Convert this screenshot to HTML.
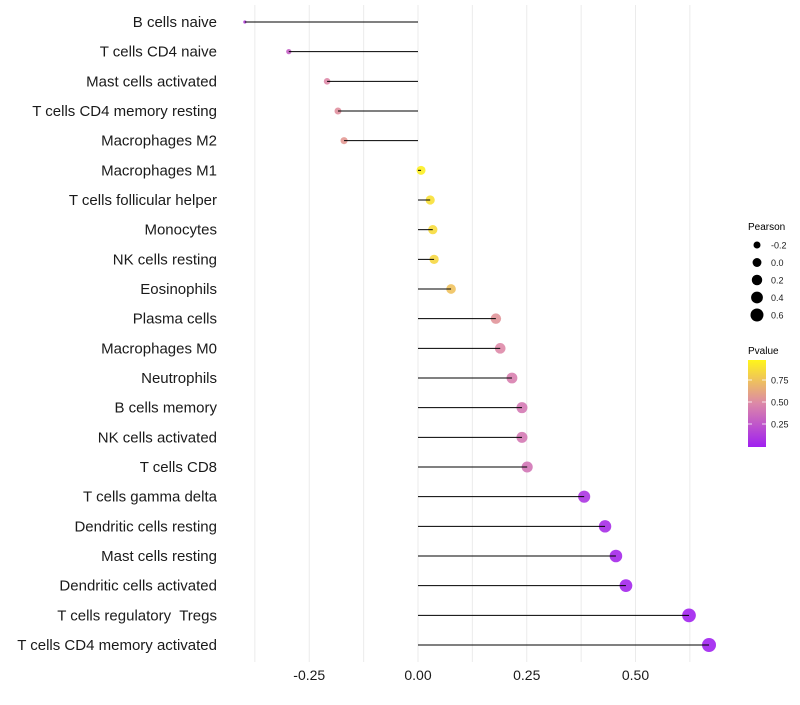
<!DOCTYPE html>
<html><head><meta charset="utf-8"><style>
body{margin:0;background:#fff;font-family:"Liberation Sans",sans-serif}
svg text{font-family:"Liberation Sans",sans-serif;white-space:pre}
</style></head><body>
<svg id="chart" width="800" height="700" viewBox="0 0 800 700" xmlns="http://www.w3.org/2000/svg">
<defs><linearGradient id="pg" x1="0" y1="1" x2="0" y2="0">
<stop offset="0" stop-color="#A020F0"/><stop offset="0.5" stop-color="#DC88A8"/><stop offset="1" stop-color="#FFF51A"/>
</linearGradient></defs>
<g id="grid"></g>
<g id="marks"></g>
<g id="ylabels"></g>
<g id="xlabels"></g>
<g id="sizeLeg">
<text x="748" y="230" font-size="10" fill="#000">Pearson</text>
</g>
<g>
<text x="748" y="354" font-size="10" fill="#000">Pvalue</text>
<rect x="748" y="360" width="18" height="87" fill="url(#pg)"/>
<g id="colorTicks"></g>
</g>
</svg>
<script>
const categories=["B cells naive","T cells CD4 naive","Mast cells activated","T cells CD4 memory resting","Macrophages M2","Macrophages M1","T cells follicular helper","Monocytes","NK cells resting","Eosinophils","Plasma cells","Macrophages M0","Neutrophils","B cells memory","NK cells activated","T cells CD8","T cells gamma delta","Dendritic cells resting","Mast cells resting","Dendritic cells activated","T cells regulatory  Tregs","T cells CD4 memory activated"];
const pearson=[-0.398,-0.297,-0.209,-0.184,-0.170,0.007,0.028,0.034,0.037,0.076,0.179,0.189,0.216,0.239,0.239,0.251,0.382,0.430,0.455,0.478,0.623,0.669];
const pvalue=[0.15,0.3,0.5,0.53,0.57,0.97,0.9,0.88,0.86,0.76,0.55,0.5,0.45,0.42,0.42,0.4,0.1,0.06,0.04,0.03,0.015,0.01];
const xTicks=[-0.25,0,0.25,0.5];
const xTickLabels=["-0.25","0.00","0.25","0.50"];
const sizeLegendValues=[-0.2,0,0.2,0.4,0.6];
const sizeLegendLabels=["-0.2","0.0","0.2","0.4","0.6"];
const colorTicks=[0.25,0.5,0.75];
const colorTickLabels=["0.25","0.50","0.75"];

const NS="http://www.w3.org/2000/svg";
const X=v=>418+v*435;
const Y=i=>22+i*29.667;
const R=v=>Math.sqrt(Math.max(2.2,19.9+v*43.5));
const RL=v=>Math.sqrt(12.25+(v+0.2)*37.5);
function lerp(a,b,t){return a.map((x,i)=>Math.round(x+(b[i]-x)*t));}
function col(p){const s=[[160,32,240],[222,138,168],[255,245,26]];let c=p<0.5?lerp(s[0],s[1],p/0.5):lerp(s[1],s[2],(p-0.5)/0.5);return `rgb(${c})`;}
function mk(tag,attrs,parent){const e=document.createElementNS(NS,tag);for(const k in attrs)e.setAttribute(k,attrs[k]);parent.appendChild(e);return e;}

const grid=document.getElementById('grid');
for(let v=-0.375;v<=0.64;v+=0.125){
  const g=mk('line',{x1:X(v),x2:X(v),y1:5,y2:662,stroke:'#ebebeb','stroke-width':1},grid);
  
  
}
const marks=document.getElementById('marks'),yl=document.getElementById('ylabels');
categories.forEach((c,i)=>{
  const d=mk('circle',{cx:X(pearson[i]),cy:Y(i),r:R(pearson[i]),fill:col(pvalue[i]),'fill-opacity':0.9},marks);
  
  
  const l=mk('line',{x1:X(0),x2:X(pearson[i]),y1:Y(i),y2:Y(i),stroke:'#000','stroke-width':1},marks);
  
  
  const t=mk('text',{x:217,y:Y(i)+5,'text-anchor':'end','font-size':15,fill:'#1a1a1a'},yl);
  t.textContent=c;
  
  
});
const xl=document.getElementById('xlabels');
xTicks.forEach((v,i)=>{
  const t=mk('text',{x:X(v),y:680,'text-anchor':'middle','font-size':14,fill:'#1a1a1a'},xl);
  t.textContent=xTickLabels[i];
  
  
});
const sl=document.getElementById('sizeLeg');
sizeLegendValues.forEach((v,i)=>{
  const y=245+i*17.5;
  const c=mk('circle',{cx:757,cy:y,r:RL(v),fill:'#000'},sl);
  
  
  const t=mk('text',{x:771,y:y+3.5,'font-size':9,fill:'#1a1a1a'},sl);
  t.textContent=sizeLegendLabels[i];
  
  
});
const ct=document.getElementById('colorTicks');
colorTicks.forEach((v,i)=>{
  const y=446-v*88;
  mk('line',{x1:748,x2:752,y1:y,y2:y,stroke:'#fff','stroke-width':0.8},ct);
  mk('line',{x1:762,x2:766,y1:y,y2:y,stroke:'#fff','stroke-width':0.8},ct);
  const t=mk('text',{x:771,y:y+3.5,'font-size':9,fill:'#1a1a1a'},ct);
  t.textContent=colorTickLabels[i];
  
  
});
</script>
</body></html>
